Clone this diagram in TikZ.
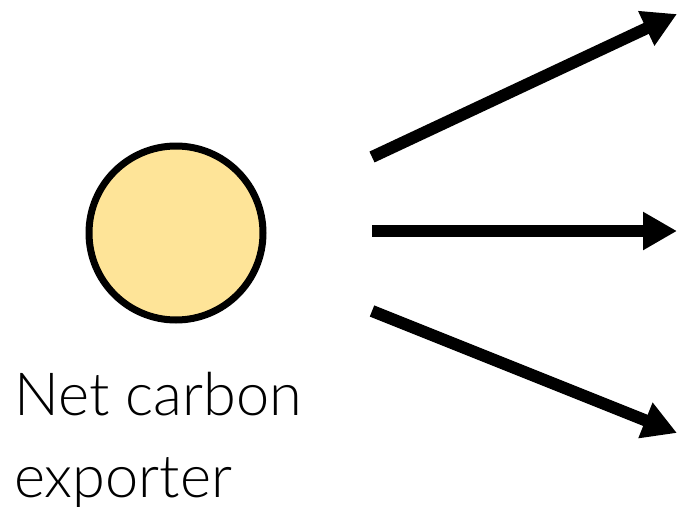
\documentclass[tikz,border=0pt]{standalone}
\usepackage{fontspec}
\setmainfont{Lato}[UprightFont={* Light}]
\usetikzlibrary{arrows.meta}
\definecolor{sunfill}{RGB}{254,228,152}
\tikzset{
  flow/.style={line width=12pt, -{Triangle[length=34pt,width=36pt]}},
  label/.style={inner sep=0pt, anchor=base west, font=\fontsize{59.5}{66}\selectfont}
}
\begin{document}
\begin{tikzpicture}[x=1pt,y=-1pt]
\useasboundingbox (0,0) rectangle (677,506);
\node[circle, draw=black, line width=7pt, fill=sunfill, minimum size=174pt, inner sep=0pt] (c) at (176,233) {};
\coordinate (s1) at (372,157);
\coordinate (s2) at (372,231);
\coordinate (s3) at (372,311);
\coordinate (t1) at (677,14);
\coordinate (t2) at (677,231);
\coordinate (t3) at (677,433);
\draw[flow] (s1) -- (t1);
\draw[flow] (s2) -- (t2);
\draw[flow] (s3) -- (t3);
\node[label] (l1) at (14,415) {Net carbon};
\node[label] (l2) at (14,497) {exporter};
\end{tikzpicture}
\end{document}
